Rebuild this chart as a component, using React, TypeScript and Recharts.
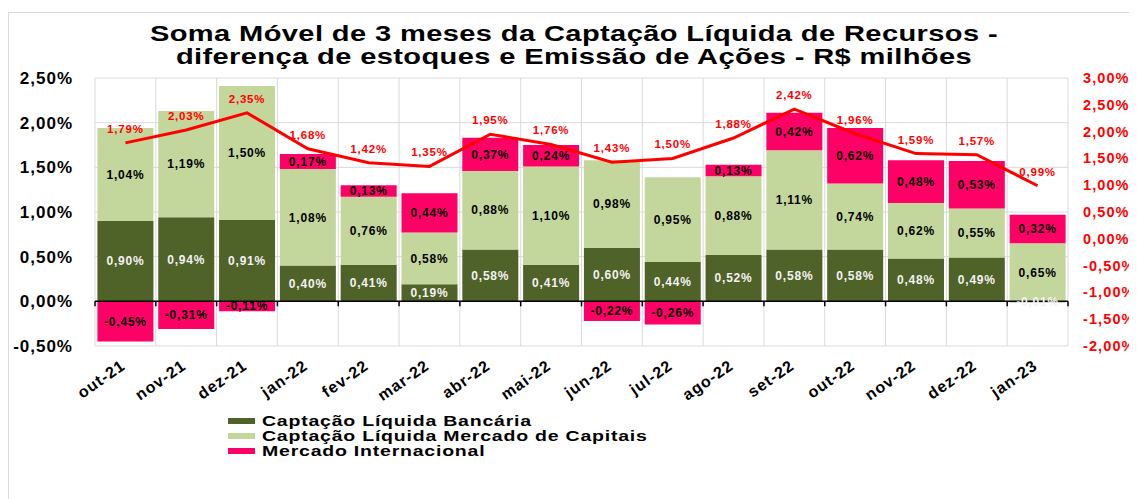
import { ComposedChart, Bar, Line, XAxis, YAxis, CartesianGrid, ReferenceLine, LabelList } from 'recharts';

const months = ['out-21', 'nov-21', 'dez-21', 'jan-22', 'fev-22', 'mar-22', 'abr-22', 'mai-22', 'jun-22', 'jul-22', 'ago-22', 'set-22', 'out-22', 'nov-22', 'dez-22', 'jan-23'];
const bancaria = [0.9, 0.94, 0.91, 0.4, 0.41, 0.19, 0.58, 0.41, 0.6, 0.44, 0.52, 0.58, 0.58, 0.48, 0.49, -0.01];
const mercadoCapitais = [1.04, 1.19, 1.5, 1.08, 0.76, 0.58, 0.88, 1.1, 0.98, 0.95, 0.88, 1.11, 0.74, 0.62, 0.55, 0.65];
const internacional = [-0.45, -0.31, -0.11, 0.17, 0.13, 0.44, 0.37, 0.24, -0.22, -0.26, 0.13, 0.42, 0.62, 0.48, 0.53, 0.32];
const somaMovel = [1.79, 2.03, 2.35, 1.68, 1.42, 1.35, 1.95, 1.76, 1.43, 1.5, 1.88, 2.42, 1.96, 1.59, 1.57, 0.99];
const leftTicks = [-0.5, 0, 0.5, 1, 1.5, 2, 2.5];
const rightTicks = [-2, -1.5, -1, -0.5, 0, 0.5, 1, 1.5, 2, 2.5, 3];

const data = months.map((m, i) => ({
  month: m,
  bancaria: bancaria[i],
  mercado: mercadoCapitais[i],
  internacional: internacional[i],
  total: somaMovel[i],
}));

const FONT = '"Liberation Sans", Arial, sans-serif';
const CHART_W = 1129;
const CHART_H = 491;
const PLOT_LEFT = 87;
const PLOT_RIGHT = 1060;
const PLOT_TOP = 70;
const PLOT_BOTTOM = 338;
const ZERO_Y = PLOT_TOP + (PLOT_BOTTOM - PLOT_TOP) * (2.5 / 3);

const fmt = (v: number) => v.toFixed(2).replace('.', ',') + '%';

function MonthTick(props: any) {
  const { x, y, payload, index } = props;
  const band = (PLOT_RIGHT - PLOT_LEFT) / months.length;
  const tx = x + 1;
  const ty = y + 22;
  return (
    <g>
      <line x1={x - band / 2} x2={x - band / 2} y1={ZERO_Y} y2={ZERO_Y + 5} stroke="#000" strokeWidth={1.5} />
      {index === months.length - 1 && (
        <line x1={x + band / 2} x2={x + band / 2} y1={ZERO_Y} y2={ZERO_Y + 5} stroke="#000" strokeWidth={1.5} />
      )}
      <text
        x={tx}
        y={ty}
        textAnchor="end"
        transform={`rotate(-35 ${tx} ${ty})`}
        style={{ fontFamily: FONT, fontSize: 16, fontWeight: 'bold', letterSpacing: '1px' }}
        fill="#000"
      >
        {payload.value}
      </text>
    </g>
  );
}

function LeftTick(props: any) {
  const { x, y, payload } = props;
  return (
    <text x={x - 22} y={y} dy="0.35em" textAnchor="end" fill="#000"
      style={{ fontFamily: FONT, fontSize: 17, fontWeight: 'bold', letterSpacing: '1px' }}>
      {fmt(payload.value)}
    </text>
  );
}

function RightTick(props: any) {
  const { x, y, payload } = props;
  return (
    <text x={x + 15} y={y} dy="0.35em" textAnchor="start" fill="#FF0000"
      style={{ fontFamily: FONT, fontSize: 14.5, fontWeight: 'bold', letterSpacing: '1.1px' }}>
      {fmt(payload.value)}
    </text>
  );
}

const barLabel = (color: string) => (props: any) => {
  const vb = props.viewBox || {};
  const x = props.x ?? vb.x;
  const y = props.y ?? vb.y;
  const w = props.width ?? vb.width ?? 0;
  const h = props.height ?? vb.height ?? 0;
  return (
    <text x={x + w / 2} y={y + h / 2} dy="0.35em" textAnchor="middle" fill={color}
      style={{ fontFamily: FONT, fontSize: 12, fontWeight: 'bold', letterSpacing: '0.8px' }}>
      {fmt(Number(props.value))}
    </text>
  );
};

const lineLabel = (props: any) => {
  const vb = props.viewBox || {};
  const x = props.x ?? vb.x;
  const y = props.y ?? vb.y;
  return (
    <text x={x} y={y - 10} textAnchor="middle" fill="#FF0000"
      style={{ fontFamily: FONT, fontSize: 11.5, fontWeight: 'bold', letterSpacing: '0.8px' }}>
      {fmt(Number(props.value))}
    </text>
  );
};

const legendItems = [
  { name: 'Captação Líquida Bancária', color: '#4F6228' },
  { name: 'Captação Líquida Mercado de Capitais', color: '#C3D69B' },
  { name: 'Mercado Internacional', color: '#FF0066' },
];

export default function App() {
  return (
    <div style={{ position: 'relative', width: CHART_W, height: CHART_H, overflow: 'hidden', background: '#fff', fontFamily: FONT }}>
      <div style={{ position: 'absolute', left: 0, top: 4, width: 1300, height: 700, border: '1px solid #D9D9D9' }} />
      <div style={{
        position: 'absolute', left: 0, top: 14, width: 1132, textAlign: 'center', fontSize: 22, lineHeight: '23px',
        fontWeight: 'bold', letterSpacing: '0.3px', color: '#000', transform: 'scaleX(1.32)', transformOrigin: '566px 0',
      }}>
        Soma Móvel de 3 meses da Captação Líquida de Recursos -<br />
        diferença de estoques e Emissão de Ações - R$ milhões
      </div>
      <div style={{ position: 'absolute', left: 0, top: 0 }}>
        <ComposedChart
          width={CHART_W}
          height={CHART_H}
          data={data}
          stackOffset="sign"
          barCategoryGap="4%"
          margin={{ top: PLOT_TOP, left: 0, right: 0, bottom: CHART_H - PLOT_BOTTOM - 60 }}
        >
          <CartesianGrid
            yAxisId="left"
            stroke="#D9D9D9"
            strokeWidth={1}
            verticalCoordinatesGenerator={({ offset }: any) =>
              months.map((_, i) => offset.left + (i * offset.width) / months.length).concat(offset.left + offset.width)
            }
          />
          <XAxis dataKey="month" height={60} axisLine={false} tickLine={false} tickSize={0} tickMargin={0} interval={0} tick={<MonthTick />} />
          <YAxis yAxisId="left" width={PLOT_LEFT} domain={[-0.5, 2.5]} ticks={leftTicks} axisLine={false} tickLine={false} tickSize={0} tickMargin={0} tick={<LeftTick />} />
          <YAxis yAxisId="right" orientation="right" width={CHART_W - PLOT_RIGHT} domain={[-2, 3]} ticks={rightTicks} axisLine={false} tickLine={false} tickSize={0} tickMargin={0} tick={<RightTick />} />
          <Bar yAxisId="left" dataKey="bancaria" stackId="a" fill="#4F6228" isAnimationActive={false}>
            <LabelList dataKey="bancaria" content={barLabel('#F2F2F2')} />
          </Bar>
          <Bar yAxisId="left" dataKey="mercado" stackId="a" fill="#C3D69B" isAnimationActive={false}>
            <LabelList dataKey="mercado" content={barLabel('#000')} />
          </Bar>
          <Bar yAxisId="left" dataKey="internacional" stackId="a" fill="#FF0066" isAnimationActive={false}>
            <LabelList dataKey="internacional" content={barLabel('#000')} />
          </Bar>
          <ReferenceLine yAxisId="left" y={0} stroke="#000" strokeWidth={1.5} />
          <Line yAxisId="right" type="linear" dataKey="total" stroke="#FF0000" strokeWidth={3} dot={false} isAnimationActive={false}>
            <LabelList dataKey="total" content={lineLabel} />
          </Line>
        </ComposedChart>
      </div>
      <div style={{ position: 'absolute', left: 220, top: 405 }}>
        {legendItems.map((it) => (
          <div key={it.name} style={{ display: 'flex', alignItems: 'center', height: 15 }}>
            <div style={{ width: 27, height: 6, background: it.color, marginRight: 7, flexShrink: 0 }} />
            <span style={{
              fontSize: 15, fontWeight: 'bold', letterSpacing: '0.6px', lineHeight: '15px', color: '#000', whiteSpace: 'nowrap',
              display: 'inline-block', transform: 'scaleX(1.3)', transformOrigin: '0 50%',
            }}>{it.name}</span>
          </div>
        ))}
      </div>
    </div>
  );
}
